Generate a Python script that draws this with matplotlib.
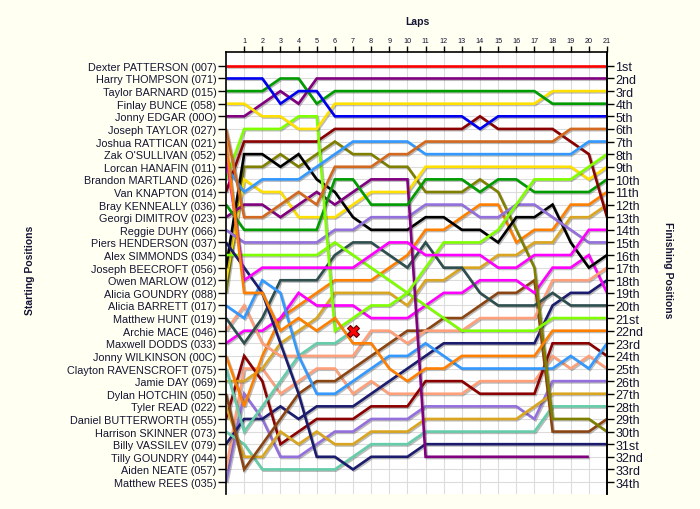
import matplotlib
matplotlib.use("Agg")
import matplotlib.pyplot as plt
import matplotlib.patheffects as pe
import numpy as np

laps = list(range(0, 22))

drivers = [
    "Dexter PATTERSON (007)", "Harry THOMPSON (071)", "Taylor BARNARD (015)",
    "Finlay BUNCE (058)", "Jonny EDGAR (00O)", "Joseph TAYLOR (027)",
    "Joshua RATTICAN (021)", "Zak O'SULLIVAN (052)", "Lorcan HANAFIN (011)",
    "Brandon MARTLAND (026)", "Van KNAPTON (014)", "Bray KENNEALLY (036)",
    "Georgi DIMITROV (023)", "Reggie DUHY (066)", "Piers HENDERSON (037)",
    "Alex SIMMONDS (034)", "Joseph BEECROFT (056)", "Owen MARLOW (012)",
    "Alicia GOUNDRY (088)", "Alicia BARRETT (017)", "Matthew HUNT (019)",
    "Archie MACE (046)", "Maxwell DODDS (033)", "Jonny WILKINSON (00C)",
    "Clayton RAVENSCROFT (075)", "Jamie DAY (069)", "Dylan HOTCHIN (050)",
    "Tyler READ (022)", "Daniel BUTTERWORTH (055)", "Harrison SKINNER (073)",
    "Billy VASSILEV (079)", "Tilly GOUNDRY (044)", "Aiden NEATE (057)",
    "Matthew REES (035)",
]

finish_labels = [
    "1st", "2nd", "3rd", "4th", "5th", "6th", "7th", "8th", "9th", "10th",
    "11th", "12th", "13th", "14th", "15th", "16th", "17th", "18th", "19th", "20th",
    "21st", "22nd", "23rd", "24th", "25th", "26th", "27th", "28th", "29th", "30th",
    "31st", "32nd", "33rd", "34th",
]

# Position of each driver at laps 0..21 (None = not running)
pos_patterson = [1] * 22
pos_thompson = [2, 2, 2, 4, 3, 3, 5, 5, 5, 5, 5, 5, 5, 5, 6, 5, 5, 5, 5, 5, 5, 5]
pos_barnard = [3, 3, 3, 2, 2, 4, 3, 3, 3, 3, 3, 3, 3, 3, 3, 3, 3, 3, 4, 4, 4, 4]
pos_bunce = [4, 4, 5, 5, 6, 6, 4, 4, 4, 4, 4, 4, 4, 4, 4, 4, 4, 4, 3, 3, 3, 3]
pos_edgar = [5, 5, 4, 3, 4, 2, 2, 2, 2, 2, 2, 2, 2, 2, 2, 2, 2, 2, 2, 2, 2, 2]
pos_taylor = [6, 13, 13, 12, 11, 12, 9, 9, 9, 8, 8, 7, 7, 7, 7, 7, 7, 7, 7, 6, 6, 6]
pos_rattican = [7, 19, 19, 22, 21, 22, 21, 23, 23, 25, 26, 25, 25, 24, 24, 24, 24, 24, 22, 22, 22, 22]
pos_osullivan = [8, 18, 17, 17, 17, 17, 17, 17, 16, 15, 15, 16, 16, 16, 16, 17, 17, 16, 16, 16, 14, 14]
pos_hanafin = [9, 11, 10, 10, 10, 9, 8, 7, 7, 7, 7, 8, 8, 8, 8, 8, 8, 8, 8, 8, 7, 7]
pos_martland = [10, 6, 6, 6, 5, 5, 22, 21, 20, 20, 19, 17, 15, 15, 15, 14, 12, 10, 10, 10, 9, 8]
pos_knapton = [11, 7, 7, 7, 7, 7, 6, 6, 6, 6, 6, 6, 6, 6, 5, 6, 6, 6, 6, 7, 8, 13]
pos_kenneally = [12, 14, 14, 14, 14, 14, 10, 10, 12, 12, 12, 10, 10, 10, 11, 10, 10, 11, 11, 11, 11, 10]
pos_dimitrov = [13, 12, 12, 13, 12, 11, 12, 11, 10, 10, 10, 32, 32, 32, 32, 32, 32, 32, 32, 32, 32, None]
pos_duhy = [14, 15, 15, 15, 15, 15, 14, 14, 13, 13, 13, 12, 12, 12, 13, 13, 12, 12, 13, 14, 15, 15]
pos_henderson = [15, 17, 19, 23, 27, 32, 32, 33, 32, 32, 32, 31, 31, 31, 31, 31, 31, 31, 31, 31, 31, 31]
pos_simmonds = [16, 16, 16, 16, 16, 16, 15, 16, 17, 18, 19, 20, 21, 22, 22, 22, 22, 22, 21, 21, 21, 21]
pos_beecroft = [17, 8, 8, 9, 8, 10, 11, 13, 14, 14, 14, 13, 13, 14, 14, 15, 13, 13, 12, 15, 17, 16]
pos_marlow = [18, 10, 11, 11, 13, 13, 13, 12, 11, 11, 11, 9, 9, 9, 9, 9, 9, 9, 9, 9, 10, 9]
pos_a_goundry = [19, 9, 9, 8, 9, 8, 7, 8, 8, 9, 9, 11, 11, 11, 10, 11, 14, 17, 29, 29, 29, 30]
pos_barrett = [20, 21, 18, 19, 24, 27, 27, 26, 25, 24, 24, 23, 24, 25, 25, 25, 25, 25, 25, 24, 25, 23]
pos_hunt = [21, 23, 21, 18, 18, 18, 16, 15, 15, 16, 17, 15, 17, 17, 19, 20, 20, 20, 19, 20, 20, 20]
pos_mace = [22, 20, 23, 24, 24, 24, 24, 24, 22, 22, 23, 22, 22, 22, 21, 21, 21, 21, 18, 18, 18, 17]
pos_dodds = [23, 22, 22, 21, 19, 20, 20, 20, 21, 21, 21, 20, 19, 19, 18, 18, 18, 19, 17, 17, 16, 19]
pos_wilkinson = [24, 28, 24, 21, 20, 19, 18, 18, 18, 17, 16, 14, 14, 13, 12, 12, 15, 14, 14, 12, 12, 11]
pos_ravenscroft = [25, 30, 28, 26, 24, 23, 23, 22] + [None] * 14
pos_day = [26, 26, 25, 23, 22, 21, 19, 19, 19, 19, 20, 18, 18, 17, 17, 16, 16, 15, 15, 13, 13, 12]
pos_hotchin = [27, 33, 31, 29, 27, 26, 26, 25, 24, 23, 22, 22, 21, 21, 20, 19, 19, 18, 30, 30, 30, 29]
pos_read = [28, 32, 32, 30, 31, 30, 31, 31, 30, 30, 30, 29, 29, 29, 29, 29, 29, 28, 27, 27, 27, 27]
pos_butterworth = [29, 24, 26, 31, 30, 29, 29, 29, 28, 28, 28, 26, 26, 26, 27, 27, 27, 27, 23, 23, 23, 24]
pos_skinner = [30, 31, 33, 33, 33, 33, 33, 32, 31, 31, 31, 30, 30, 30, 30, 30, 30, 30, 28, 28, 28, 28]
pos_vassilev = [31, 29, 29, 28, 29, 28, 28, 28, 27, 26, 25, 24, 23, 23, 23, 23, 23, 23, 20, 19, 19, 18]
pos_t_goundry = [32] + [None] * 21
pos_neate = [33, 25, 25, 27, 26, 25, 25, 27, 26, 27, 27, 27, 27, 27, 26, 26, 26, 26, 24, 25, 24, 25]
pos_rees = [34, 27, 29, 32, 32, 31, 30, 30, 29, 29, 29, 28, 28, 28, 28, 28, 28, 29, 26, 26, 26, 26]

all_positions = [
    pos_patterson, pos_thompson, pos_barnard, pos_bunce, pos_edgar, pos_taylor,
    pos_rattican, pos_osullivan, pos_hanafin, pos_martland, pos_knapton,
    pos_kenneally, pos_dimitrov, pos_duhy, pos_henderson, pos_simmonds,
    pos_beecroft, pos_marlow, pos_a_goundry, pos_barrett, pos_hunt, pos_mace,
    pos_dodds, pos_wilkinson, pos_ravenscroft, pos_day, pos_hotchin, pos_read,
    pos_butterworth, pos_skinner, pos_vassilev, pos_t_goundry, pos_neate, pos_rees,
]

crashed = [pos_ravenscroft]

colors = [
    "#ff0000", "#0000f0", "#009c00", "#ffe000", "#800080", "#d2691e",
    "#ff8000", "#ff00ff", "#3399ff", "#80ff00", "#8b0000",
    "#009c00", "#800080", "#9370db", "#1c1c6e", "#80ff00",
    "#000000", "#ffe000", "#808000", "#3399ff", "#2f4f4f", "#ffa07a",
    "#ff00ff", "#ff8000", "#66cdaa", "#daa520", "#8b4513", "#daa520",
    "#8b0000", "#66cdaa", "#1c1c6e", "#999999", "#ffa07a", "#9370db",
]

bg = "#fffff2"
txt = "#141432"

fig = plt.figure(figsize=(7.0, 5.1), dpi=100, facecolor=bg)
ax = fig.add_axes([226 / 700, 1 - 495 / 510, (607 - 226) / 700, (495 - 53) / 510])
ax.set_facecolor("white")

n = len(drivers)
ax.set_xlim(0, 21)
ax.set_ylim(n + 0.95, -0.1)

# grid
for x in laps[1:]:
    ax.axvline(x, color="#dcdcdc", lw=0.8, zorder=0)
for y in range(1, n + 1):
    ax.axhline(y, color="#dcdcdc", lw=0.8, zorder=0)

shadow = [pe.SimpleLineShadow(offset=(0.9, -0.9), shadow_color="#404040", alpha=0.35), pe.Normal()]

for i in range(n - 1, -1, -1):
    p = all_positions[i]
    xs = [l for l, v in zip(laps, p) if v is not None]
    ys = [v for v in p if v is not None]
    if len(xs) < 2:
        continue
    ax.plot(xs, ys, color=colors[i], lw=1.9, solid_joinstyle="miter",
            solid_capstyle="butt", path_effects=shadow, zorder=2 + (n - i) * 0.01)

for p in crashed:
    xs = [l for l, v in zip(laps, p) if v is not None]
    ys = [v for v in p if v is not None]
    ax.plot(xs[-1], ys[-1], marker="X", ms=9, mfc="#ff0000", mec="#660000", mew=0.8, zorder=5)

# axes styling
ax.spines["bottom"].set_visible(False)
for s in ["left", "top", "right"]:
    ax.spines[s].set_color("black")
    ax.spines[s].set_linewidth(1.2)

ax.xaxis.set_ticks_position("top")
ax.set_xticks(laps[1:])
ax.set_xticklabels([str(l) for l in laps[1:]], fontsize=5.2, color=txt, family="Liberation Sans")
ax.tick_params(axis="x", direction="out", length=4, width=1, pad=2)

ax.set_yticks(range(1, n + 1))
ax.set_yticklabels(drivers, fontsize=7.85, color=txt, family="Liberation Sans")
ax.tick_params(axis="y", direction="out", length=5.5, width=1, pad=1.5)

ax2 = ax.twinx()
ax2.set_ylim(ax.get_ylim())
ax2.set_yticks(range(1, n + 1))
ax2.set_yticklabels(finish_labels, fontsize=9, color=txt, family="Liberation Sans")
ax2.tick_params(axis="y", direction="out", length=5, width=1, pad=1)
for s in ["bottom", "top", "left"]:
    ax2.spines[s].set_visible(False)
ax2.spines["right"].set_linewidth(1.2)

fig.text(417 / 700, 1 - 22 / 510, "Laps", ha="center", va="center", fontsize=7.5,
         fontweight="bold", color=txt, family="Liberation Sans")
fig.text(30 / 700, 1 - 270 / 510, "Starting Positions", ha="center", va="center",
         rotation=90, fontsize=7.5, fontweight="bold", color=txt, family="Liberation Sans")
fig.text(668 / 700, 1 - 270 / 510, "Finishing Positions", ha="center", va="center",
         rotation=270, fontsize=7.5, fontweight="bold", color=txt, family="Liberation Sans")

fig.savefig("out.png", dpi=100, facecolor=bg)
